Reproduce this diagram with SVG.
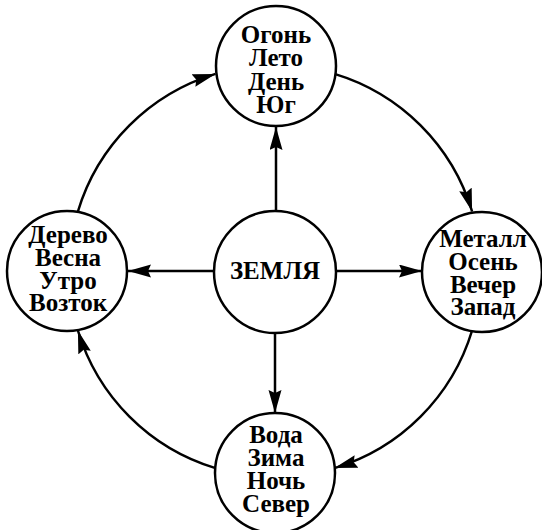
<svg xmlns="http://www.w3.org/2000/svg" width="542" height="530" viewBox="0 0 542 530">
<defs>
<style>
.node circle{fill:#fff;stroke:#000;stroke-width:2.5}
.node text{font-family:"Liberation Serif","Times New Roman",serif;font-weight:bold;font-size:25px;text-anchor:middle;fill:#000}
.conn path{fill:none;stroke:#000;stroke-width:2.5;marker-end:url(#ah)}
</style>
<marker id="ah" markerUnits="userSpaceOnUse" markerWidth="24" markerHeight="14" refX="23" refY="6.5" orient="auto">
<path d="M0,0 L23,6.5 L0,13 L3,6.5 z" fill="#000"/>
</marker>
</defs>
<rect width="542" height="530" fill="#fff"/>
<g id="connectors" class="conn">
<path d="M276,210 L276,127"/>
<path d="M214,271 L128,271"/>
<path d="M336,271 L422,271"/>
<path d="M275,333 L275,413"/>
<path d="M334.5,73.9 A206,206 0 0 1 472.1,211.5"/>
<path d="M472.1,330.5 A206,206 0 0 1 334.5,468.1"/>
<path d="M215.5,468.1 A206,206 0 0 1 77.9,330.5"/>
<path d="M77.9,211.5 A206,206 0 0 1 215.5,73.9"/>
</g>
<g id="node-fire" class="node">
<circle cx="276" cy="66" r="60"/>
<text x="276" y="43">Огонь</text>
<text x="276" y="66">Лето</text>
<text x="276" y="90">День</text>
<text x="276" y="113">Юг</text>
</g>
<g id="node-wood" class="node">
<circle cx="67" cy="271" r="60"/>
<text x="68" y="243">Дерево</text>
<text x="68" y="266">Весна</text>
<text x="68" y="289">Утро</text>
<text x="68" y="311">Возток</text>
</g>
<g id="node-earth" class="node">
<circle cx="275" cy="272" r="61"/>
<text x="275" y="279">ЗЕМЛЯ</text>
</g>
<g id="node-metal" class="node">
<circle cx="482" cy="272" r="60"/>
<text x="483" y="247">Металл</text>
<text x="483" y="270">Осень</text>
<text x="483" y="293">Вечер</text>
<text x="483" y="315">Запад</text>
</g>
<g id="node-water" class="node">
<circle cx="275" cy="473" r="60"/>
<text x="276" y="443">Вода</text>
<text x="276" y="466">Зима</text>
<text x="276" y="489">Ночь</text>
<text x="276" y="512">Север</text>
</g>
</svg>
